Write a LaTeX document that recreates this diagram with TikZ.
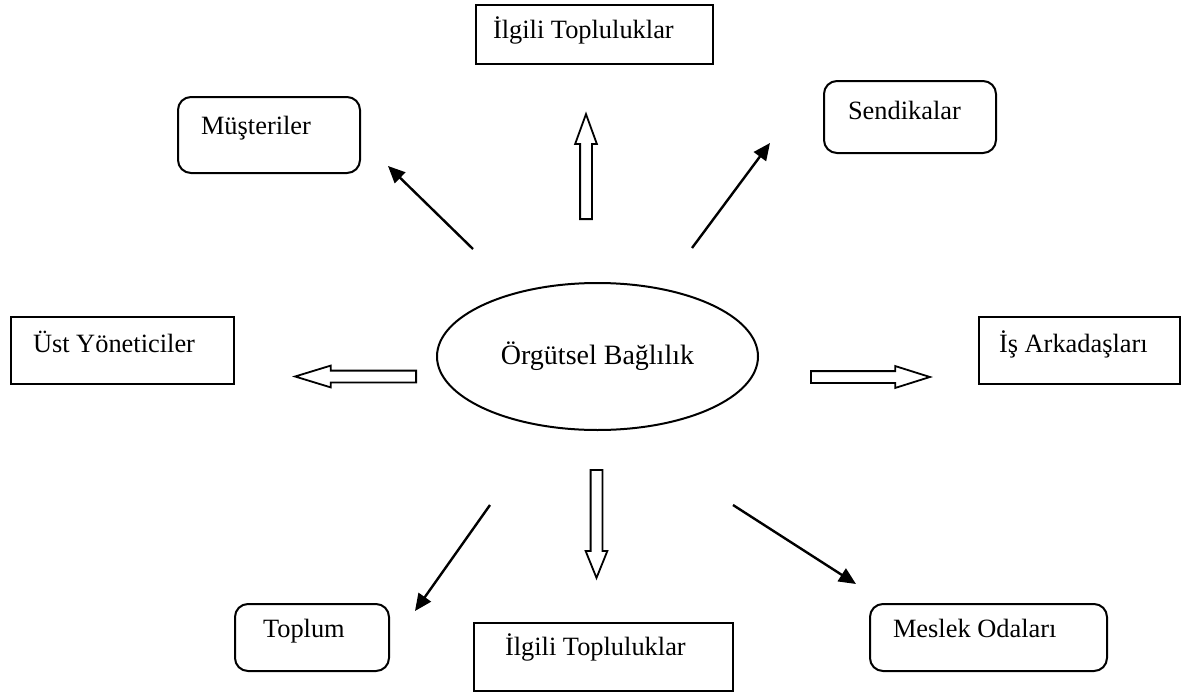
\documentclass[tikz,border=0pt]{standalone}
\usepackage{fontspec}
\setmainfont{Liberation Serif}
\usetikzlibrary{shapes.geometric,shapes.arrows,arrows.meta}
% label set flush left inside a box of given width, after a given indent
\newcommand{\boxlabel}[3]{\makebox[#1][l]{\hspace*{#2}#3}}
\begin{document}
\begin{tikzpicture}[x=1pt,y=-1pt,
  font=\fontsize{26.4}{30}\selectfont,
  boxbase/.style={draw, line width=2pt, anchor=north west, inner sep=0pt},
  sqbox/.style={boxbase},
  rbox/.style={boxbase, rounded corners=13pt},
  thinarrow/.style={line width=2.4pt, -{Triangle[length=17pt,width=15pt]}},
  blockarrow/.style={draw, line width=1.8pt, single arrow, inner sep=5pt,
    single arrow head extend=5pt, minimum width=20pt, anchor=tail}
]
\useasboundingbox (0,0) rectangle (1195,696);

% central concept
\node[draw, ellipse, line width=2pt, minimum width=321pt, minimum height=147pt,
  font=\fontsize{28}{32}\selectfont]
  (org) at (597.5,356.5) {Örgütsel Bağlılık};

% surrounding groups
\node[sqbox, text height=33pt, text depth=26pt]
  (ilgiliust) at (475,4) {\boxlabel{237pt}{17pt}{İlgili Topluluklar}};
\node[rbox, text height=37pt, text depth=39pt]
  (mus) at (177,96) {\boxlabel{182pt}{23pt}{Müşteriler}};
\node[rbox, text height=38pt, text depth=34pt]
  (sen) at (823,80) {\boxlabel{172pt}{24pt}{Sendikalar}};
\node[sqbox, text height=35pt, text depth=32pt]
  (ust) at (10,316) {\boxlabel{223pt}{22pt}{Üst Yöneticiler}};
\node[sqbox, text height=35pt, text depth=32pt]
  (isark) at (978,316) {\boxlabel{201pt}{20pt}{İş Arkadaşları}};
\node[rbox, text height=33pt, text depth=34pt]
  (toplum) at (234,603) {\boxlabel{154pt}{28pt}{Toplum}};
\node[sqbox, text height=32pt, text depth=36pt]
  (ilgilialt) at (473,622) {\boxlabel{259pt}{31pt}{İlgili Topluluklar}};
\node[rbox, text height=33pt, text depth=34pt]
  (meslek) at (869,603) {\boxlabel{237pt}{23pt}{Meslek Odaları}};

% hollow block arrows, placed by their tails
\node[blockarrow, shape border rotate=90, minimum height=105pt,
  single arrow tip angle=40] (upar) at (586,220) {};
\node[blockarrow, shape border rotate=270, minimum height=108pt,
  single arrow tip angle=44] (downar) at (596.5,469) {};
\node[blockarrow, shape border rotate=180, minimum height=121pt,
  single arrow tip angle=34] (leftar) at (417,376.5) {};
\node[blockarrow, shape border rotate=0, minimum height=119pt,
  single arrow tip angle=35] (rightar) at (810,377) {};

% solid arrows
\coordinate (m0) at (473,249); \coordinate (m1) at (388,166);
\coordinate (s0) at (692,248); \coordinate (s1) at (770,143);
\coordinate (t0) at (490,505); \coordinate (t1) at (415,611);
\coordinate (k0) at (733,505); \coordinate (k1) at (856,584);
\draw[thinarrow] (m0) -- (m1);
\draw[thinarrow] (s0) -- (s1);
\draw[thinarrow] (t0) -- (t1);
\draw[thinarrow] (k0) -- (k1);
\end{tikzpicture}
\end{document}
